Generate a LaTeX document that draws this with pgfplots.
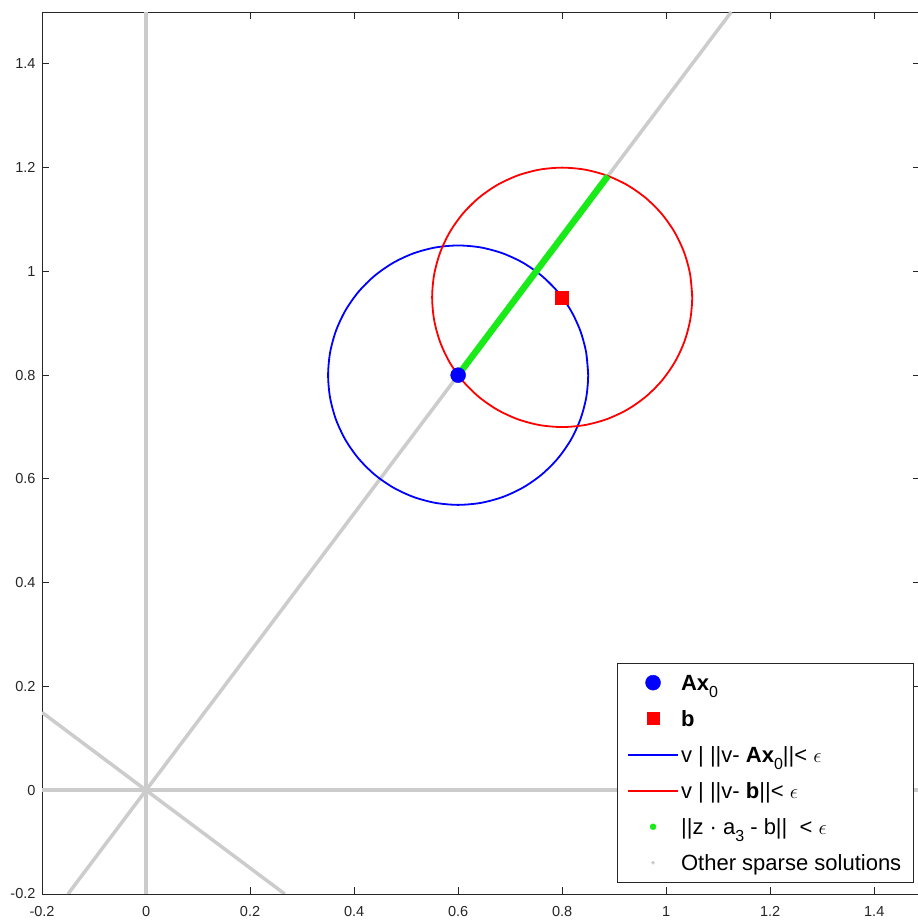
\documentclass[border=0pt]{standalone}
\usepackage{pgfplots}
\pgfplotsset{compat=1.18}
\usepackage{fontspec}
\setmainfont{Liberation Sans}
\definecolor{mgray}{rgb}{0.8,0.8,0.8}
\definecolor{axgray}{rgb}{0.15,0.15,0.15}
\definecolor{mgreen}{rgb}{0.1,0.92,0.1}
\newcommand\sub[1]{\raisebox{-0.6ex}{\fontsize{16}{16}\selectfont #1}}
\newcommand\eps{{\fontsize{20}{20}\selectfont$\epsilon$}}
\begin{document}
\begin{tikzpicture}
\begin{axis}[
  scale only axis, width=877pt, height=881.5pt,
  xmin=-0.2, xmax=1.487, ymin=-0.2, ymax=1.5,
  xtick={-0.2,0,0.2,0.4,0.6,0.8,1,1.2,1.4},
  ytick={-0.2,0,0.2,0.4,0.6,0.8,1,1.2,1.4},
  /pgf/number format/assume math mode=true,
  tick label style={font=\fontsize{14.5}{16}\selectfont, text=axgray},
  xticklabel style={yshift=-9pt},
  yticklabel style={xshift=-3pt},
  axis line style={axgray, line width=0.9pt},
  major tick style={axgray, line width=0.9pt},
  major tick length=7pt,
  tick align=inside,
  clip=true,
  legend image code/.code={\draw[mark repeat=2,mark phase=2,#1] plot coordinates {(0pt,0pt) (25pt,0pt) (50pt,0pt)};},
  legend style={at={(1,0)}, anchor=south east, xshift=-6pt, yshift=12pt,
    draw=axgray, fill=white, inner xsep=10pt, inner ysep=6pt,
    font=\fontsize{22}{24}\selectfont, row sep=10pt,
    nodes={inner sep=2pt, text height=19pt, text depth=3pt},
    cells={anchor=west}},
]
% legend entries
\addlegendimage{only marks, mark=*, mark size=7.5pt, blue}
\addlegendentry{\textbf{Ax}\sub{0}}
\addlegendimage{only marks, mark=square*, mark size=6pt, red}
\addlegendentry{\textbf{b}}
\addlegendimage{legend image code/.code={\draw[blue, line width=2pt] (0pt,0pt) -- (50pt,0pt);}}
\addlegendentry{v | ||v- \textbf{Ax}\sub{0}||< \eps}
\addlegendimage{legend image code/.code={\draw[red, line width=2pt] (0pt,0pt) -- (50pt,0pt);}}
\addlegendentry{v | ||v- \textbf{b}||< \eps}
\addlegendimage{only marks, mark=*, mark size=3pt, mgreen}
\addlegendentry{||z \textperiodcentered{} a\sub{3} - b||~~< \eps}
\addlegendimage{only marks, mark=*, mark size=1.6pt, mgray}
\addlegendentry{Other sparse solutions}

% other sparse solutions (gray lines)
\addplot[mgray, line width=3.5pt, forget plot] coordinates {(0,-0.2) (0,1.5)};
\addplot[mgray, line width=3.5pt, forget plot] coordinates {(-0.2,0) (1.5,0)};
\addplot[mgray, line width=3.5pt, forget plot] coordinates {(-0.15,-0.2) (1.125,1.5)};
\addplot[mgray, line width=3.5pt, forget plot] coordinates {(-0.2,0.15) (0.2667,-0.2)};

% blue circle ||v - Ax0|| = eps
\addplot[blue, line width=1.8pt, smooth, forget plot] coordinates {
(0.85,0.8) (0.8462,0.8434) (0.8349,0.8855) (0.8165,0.925) (0.7915,0.9607)
(0.7607,0.9915) (0.725,1.0165) (0.6855,1.0349) (0.6434,1.0462) (0.6,1.05)
(0.5566,1.0462) (0.5145,1.0349) (0.475,1.0165) (0.4393,0.9915) (0.4085,0.9607)
(0.3835,0.925) (0.3651,0.8855) (0.3538,0.8434) (0.35,0.8) (0.3538,0.7566)
(0.3651,0.7145) (0.3835,0.675) (0.4085,0.6393) (0.4393,0.6085) (0.475,0.5835)
(0.5145,0.5651) (0.5566,0.5538) (0.6,0.55) (0.6434,0.5538) (0.6855,0.5651)
(0.725,0.5835) (0.7607,0.6085) (0.7915,0.6393) (0.8165,0.675) (0.8349,0.7145)
(0.8462,0.7566) (0.85,0.8) (0.8462,0.8434)};

% red circle ||v - b|| = eps
\addplot[red, line width=1.8pt, smooth, forget plot] coordinates {
(1.05,0.95) (1.0462,0.9934) (1.0349,1.0355) (1.0165,1.075) (0.9915,1.1107)
(0.9607,1.1415) (0.925,1.1665) (0.8855,1.1849) (0.8434,1.1962) (0.8,1.2)
(0.7566,1.1962) (0.7145,1.1849) (0.675,1.1665) (0.6393,1.1415) (0.6085,1.1107)
(0.5835,1.075) (0.5651,1.0355) (0.5538,0.9934) (0.55,0.95) (0.5538,0.9066)
(0.5651,0.8645) (0.5835,0.825) (0.6085,0.7893) (0.6393,0.7585) (0.675,0.7335)
(0.7145,0.7151) (0.7566,0.7038) (0.8,0.7) (0.8434,0.7038) (0.8855,0.7151)
(0.925,0.7335) (0.9607,0.7585) (0.9915,0.7893) (1.0165,0.825) (1.0349,0.8645)
(1.0462,0.9066) (1.05,0.95) (1.0462,0.9934)};

% green segment
\addplot[mgreen, line width=6.5pt, forget plot] coordinates {(0.6,0.8) (0.888,1.184)};

% points
\addplot[only marks, mark=*, mark size=7.5pt, blue, forget plot] coordinates {(0.6,0.8)};
\addplot[only marks, mark=square*, mark size=6.5pt, red, forget plot] coordinates {(0.8,0.95)};
\end{axis}
\pgfresetboundingbox
\path[use as bounding box] ([xshift=-42pt,yshift=-29pt]current axis.south west) rectangle ([xshift=875pt,yshift=12pt]current axis.north west);
\end{tikzpicture}
\end{document}
